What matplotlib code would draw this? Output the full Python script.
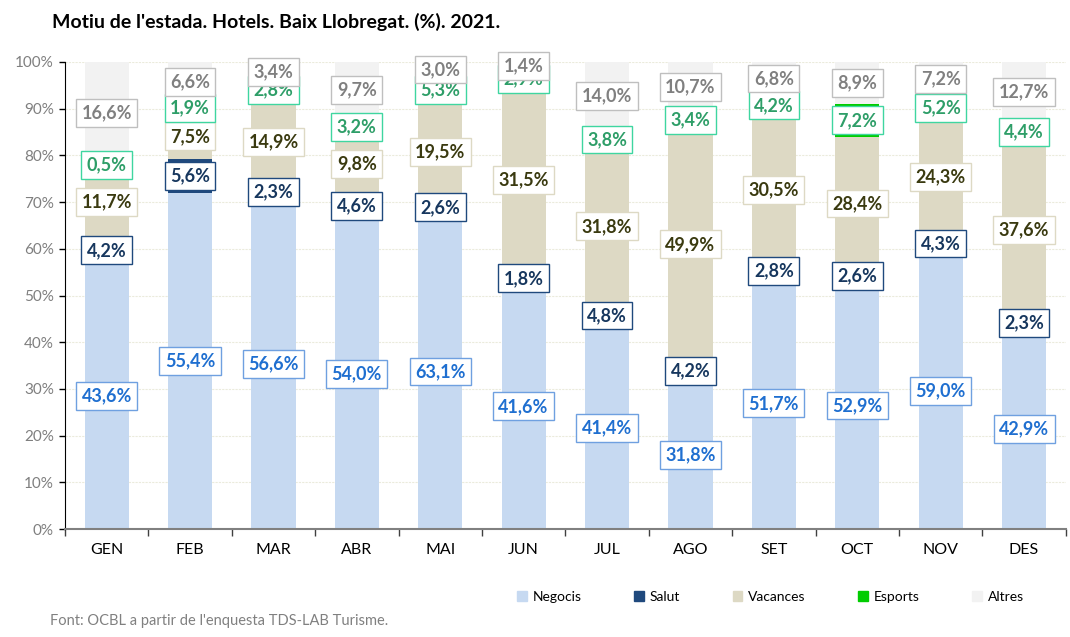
import numpy as np
import matplotlib.pyplot as plt
from matplotlib.patches import Patch

plt.rcParams['font.family'] = ['Lato', 'DejaVu Sans']

months = ['GEN', 'FEB', 'MAR', 'ABR', 'MAI', 'JUN', 'JUL', 'AGO', 'SET', 'OCT', 'NOV', 'DES']
negocis = [43.6, 55.4, 56.6, 54.0, 63.1, 41.6, 41.4, 31.8, 51.7, 52.9, 59.0, 42.9]
salut = [4.2, 5.6, 2.3, 4.6, 2.6, 1.8, 4.8, 4.2, 2.8, 2.6, 4.3, 2.3]
vacances = [11.7, 7.5, 14.9, 9.8, 19.5, 31.5, 31.8, 49.9, 30.5, 28.4, 24.3, 37.6]
esports = [0.5, 1.9, 2.8, 3.2, 5.3, 2.9, 3.8, 3.4, 4.2, 7.2, 5.2, 4.4]
altres = [16.6, 6.6, 3.4, 9.7, 3.0, 1.4, 14.0, 10.7, 6.8, 8.9, 7.2, 12.7]

# name, values, fill, label text colour, label border colour
series = [
    ('Negocis', negocis, '#C6D9F1', '#1F6FD0', '#6FA0E0'),
    ('Salut', salut, '#1F497D', '#17375E', '#1F497D'),
    ('Vacances', vacances, '#DDD9C4', '#3A3A10', '#DDD9C4'),
    ('Esports', esports, '#00CC00', '#2E9E68', '#3FD6A0'),
    ('Altres', altres, '#F2F2F2', '#808080', '#BFBFBF'),
]

data = np.array([s[1] for s in series])
totals = data.sum(axis=0)
shares = data / totals * 100  # 100% stacked

fig = plt.figure(figsize=(10.7, 6.37), dpi=100)
ax = fig.add_axes([0.0607, 0.1695, 0.9353, 0.7332])
x = np.arange(len(months))
bottom = np.zeros(len(months))

for i, (name, vals, fill, tcol, ecol) in enumerate(series):
    ax.bar(x, shares[i], 0.53, bottom=bottom, color=fill, zorder=2)
    for j in range(len(months)):
        ax.text(x[j], bottom[j] + shares[i][j] / 2, f'{vals[j]:.1f}%'.replace('.', ','),
                ha='center', va='center', fontsize=13, fontweight='bold', color=tcol,
                zorder=3 + i,
                bbox=dict(boxstyle='square,pad=0.3', fc='white', ec=ecol, lw=1.0))
    bottom += shares[i]

ax.set_xlim(-0.5, len(months) - 0.5)
ax.set_ylim(0, 100)
ax.set_yticks(np.arange(0, 101, 10))
ax.set_yticklabels([f'{v}%' for v in range(0, 101, 10)], color='#7F7F7F', fontsize=11)
ax.yaxis.grid(True, color='#EBEBDC', lw=0.8, linestyle=(0, (2, 1)), zorder=0)
ax.tick_params(axis='y', length=4, width=1, color='black', pad=4)

ax.set_xticks(x)
ax.set_xticklabels(months, fontsize=11.5, color='black')
ax.set_xticks(np.arange(-0.5, len(months)), minor=True)
ax.tick_params(axis='x', which='major', length=0, pad=10)
ax.tick_params(axis='x', which='minor', length=5, width=1, color='#404040')

for side in ['top', 'right']:
    ax.spines[side].set_visible(False)
ax.spines['left'].set_color('black')
ax.spines['bottom'].set_color('#808080')
ax.spines['bottom'].set_linewidth(1.5)

fig.text(0.049, 0.965, "Motiu de l'estada. Hotels. Baix Llobregat. (%). 2021.",
         fontsize=14, fontweight='bold', ha='left', va='center')

handles = [Patch(color=s[2]) for s in series]
fig.legend(handles, [s[0] for s in series], loc='center', bbox_to_anchor=(0.72, 0.063),
           ncol=5, frameon=False, fontsize=10, handlelength=0.7, handleheight=0.7,
           handletextpad=0.4, columnspacing=3.8)

fig.text(0.047, 0.014, "Font: OCBL a partir de l'enquesta TDS-LAB Turisme.",
         fontsize=10.5, color='#808080', ha='left', va='bottom')

fig.savefig('out.png', dpi=100)
